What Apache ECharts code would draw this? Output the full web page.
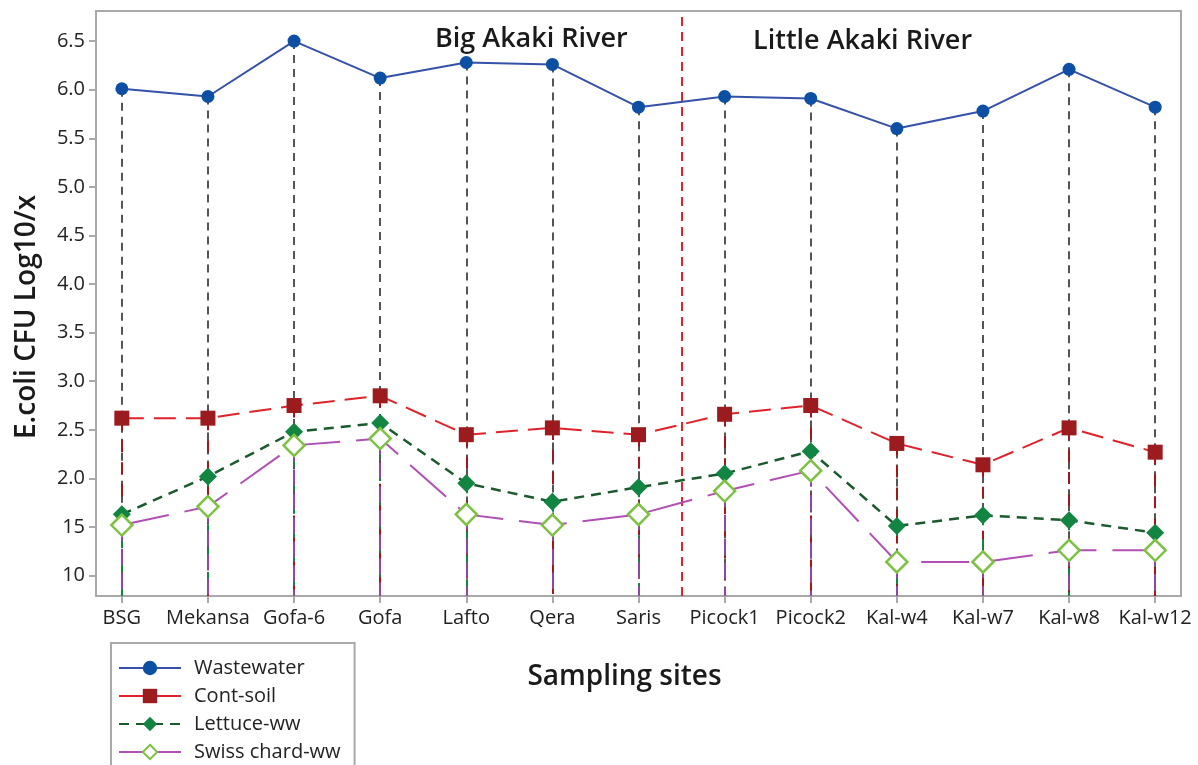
<!DOCTYPE html>
<html>
<head>
<meta charset="utf-8">
<script src="https://cdn.jsdelivr.net/npm/echarts@6/dist/echarts.min.js"></script>
<style>
html,body{margin:0;padding:0;background:#fff;}
#c{width:1198px;height:765px;}
</style>
</head>
<body>
<div id="c"></div>
<script>
const sites = ['BSG','Mekansa','Gofa-6','Gofa','Lafto','Qera','Saris','Picock1','Picock2','Kal-w4','Kal-w7','Kal-w8','Kal-w12'];
const wastewater = [6.01,5.93,6.50,6.12,6.28,6.26,5.82,5.93,5.91,5.60,5.78,6.21,5.82];
const contSoil   = [2.62,2.62,2.75,2.85,2.45,2.52,2.45,2.66,2.75,2.36,2.14,2.52,2.27];
const lettuce    = [1.63,2.02,2.48,2.57,1.95,1.76,1.91,2.05,2.28,1.51,1.62,1.57,1.44];
const swiss      = [1.52,1.71,2.34,2.41,1.63,1.52,1.63,1.87,2.08,1.14,1.14,1.26,1.26];
const yTickValues = [1.0,1.5,2.0,2.5,3.0,3.5,4.0,4.5,5.0,5.5,6.0,6.5];
const yTickLabels = ['10','15','2.0','2.5','3.0','3.5','4.0','4.5','5.0','5.5','6.0','6.5'];
const regionNames = ['Big Akaki River','Little Akaki River'];
const regionSplitAfter = 6; // Saris is last site of Big Akaki River
const xTitle = 'Sampling sites';
const yTitle = 'E.coli CFU Log10/x';

const Y_MIN = 0.79, Y_MAX = 6.81;
const FONT = '"Open Sans", "Noto Sans", sans-serif';

function drops(vals, color, dash, width) {
  return {
    silent: true, symbol: ['none','none'], animation: false,
    label: {show: false},
    lineStyle: {color: color, type: dash, width: width},
    data: vals.map((v, i) => [{coord: [i, v]}, {coord: [i, Y_MIN]}])
  };
}

const chart = echarts.init(document.getElementById('c'), null, {renderer: 'canvas'});
const option = {
  animation: false,
  backgroundColor: '#fff',
  textStyle: {fontFamily: FONT},
  grid: {left: 96, top: 11, right: 17, bottom: 169, show: true, borderColor: '#A9A9A9', borderWidth: 2, containLabel: false},
  xAxis: {
    type: 'value', min: -0.3, max: 12.3,
    name: xTitle, nameLocation: 'middle', nameGap: 67,
    nameTextStyle: {fontSize: 28, fontWeight: 600, color: '#1a1a1a', fontFamily: FONT, padding: [0, 28, 0, 0]},
    axisLine: {show: true, onZero: false, lineStyle: {color: '#A9A9A9', width: 2}},
    axisTick: {show: true, length: 7, lineStyle: {color: '#A9A9A9', width: 2}, customValues: sites.map((s, i) => i)},
    axisLabel: {customValues: sites.map((s, i) => i), formatter: v => sites[Math.round(v)] || '', fontSize: 20, color: '#222', margin: 12, fontFamily: FONT, fontWeight: 500},
    splitLine: {show: false}
  },
  yAxis: {
    type: 'value', min: Y_MIN, max: Y_MAX,
    axisLine: {show: true, onZero: false, lineStyle: {color: '#A9A9A9', width: 2}},
    axisTick: {show: true, length: 7, lineStyle: {color: '#A9A9A9', width: 2}, customValues: yTickValues},
    axisLabel: {customValues: yTickValues, formatter: v => {const k = yTickValues.findIndex(t => Math.abs(t - v) < 1e-6); return k >= 0 ? yTickLabels[k] : '';}, fontSize: 20, color: '#222', margin: 11, fontFamily: FONT, fontWeight: 500},
    splitLine: {show: false}
  },
  legend: {
    orient: 'vertical', left: 111, top: 643, height: 300,
    padding: [15, 14, 14, 7],
    borderColor: '#A9A9A9', borderWidth: 2, borderRadius: 0,
    itemWidth: 62, itemHeight: 18, itemGap: 8,
    textStyle: {fontSize: 20, color: '#222', fontFamily: FONT, fontWeight: 500, padding: [0, 0, 0, 8]},
    data: [
      {name: 'Wastewater'},
      {name: 'Cont-soil', lineStyle: {type: 'solid'}},
      {name: 'Lettuce-ww'},
      {name: 'Swiss chard-ww', lineStyle: {type: 'solid'}}
    ]
  },
  graphic: [
    {type: 'text', left: 435, top: 26, style: {text: regionNames[0], font: '600 27px ' + FONT, fill: '#1a1a1a'}},
    {type: 'text', left: 753, top: 28, style: {text: regionNames[1], font: '600 27px ' + FONT, fill: '#1a1a1a'}},
    {type: 'text', x: 27, y: 317, rotation: Math.PI / 2, style: {text: yTitle, font: '600 28px ' + FONT, fill: '#1a1a1a', align: 'center', verticalAlign: 'middle'}}
  ],
  series: [
    {
      name: 'Wastewater', type: 'line', z: 5,
      data: wastewater.map((v, i) => [i, v]),
      symbol: 'circle', symbolSize: 13,
      itemStyle: {color: '#0C4FA3'},
      lineStyle: {color: '#3551A8', width: 2, type: 'solid'},
      markLine: drops(wastewater, '#555', [8, 6], 2),
    },
    {
      name: 'Cont-soil', type: 'line', z: 6,
      data: contSoil.map((v, i) => [i, v]),
      symbol: 'rect', symbolSize: 15,
      itemStyle: {color: '#9B1B1F'},
      lineStyle: {color: '#E0222B', width: 2, type: [22, 10]},
      markLine: drops(contSoil, '#A3171C', [12, 10], 2),
    },
    {
      name: 'Lettuce-ww', type: 'line', z: 7,
      data: lettuce.map((v, i) => [i, v]),
      symbol: 'diamond', symbolSize: 18,
      itemStyle: {color: '#118541'},
      lineStyle: {color: '#1B5A2C', width: 2.5, type: [10, 7]},
      markLine: drops(lettuce, '#118541', [10, 14], 2),
    },
    {
      name: 'Swiss chard-ww', type: 'line', z: 8,
      data: swiss.map((v, i) => [i, v]),
      symbol: 'diamond', symbolSize: 21,
      itemStyle: {color: '#fff', borderColor: '#7CC242', borderWidth: 2.5},
      lineStyle: {color: '#B050B5', width: 2, type: [48, 16]},
      markLine: drops(swiss, '#8E47A8', [16, 8], 2),
    },
    {
      name: 'sep', type: 'line', data: [], silent: true,
      markLine: {
        silent: true, symbol: ['none','none'], label: {show: false},
        lineStyle: {color: '#E0222B', type: [9, 6], width: 2},
        data: [{xAxis: regionSplitAfter + 0.5}]
      }
    }
  ]
};
chart.setOption(option);
</script>
</body>
</html>
